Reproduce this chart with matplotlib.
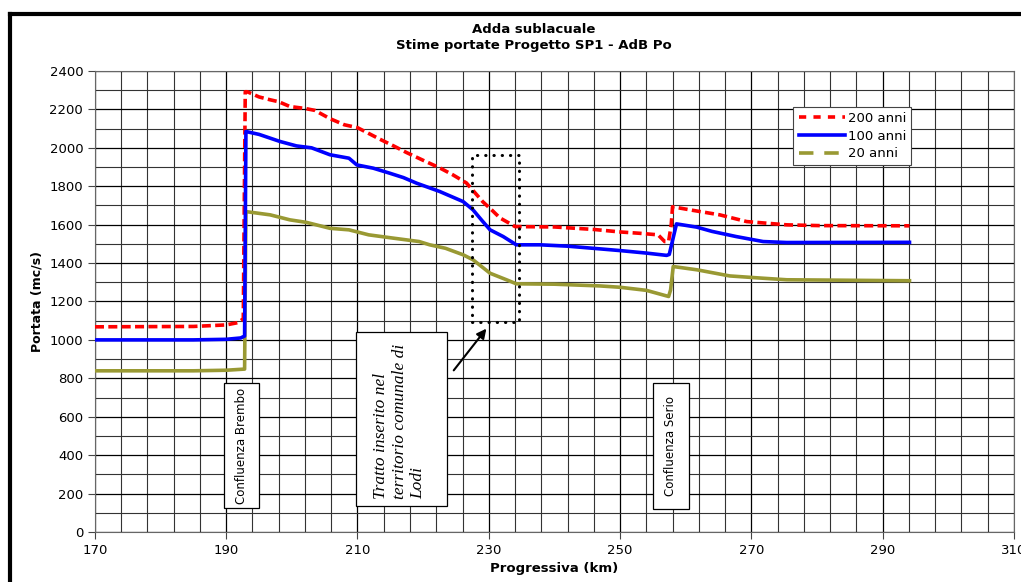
import matplotlib.pyplot as plt
from matplotlib.lines import Line2D
from matplotlib.patches import Rectangle

# --- dati ---
km_200 = [170, 185, 190, 191.8, 192.6, 192.9, 193.2, 195, 196.7, 198, 199.7, 202, 203.5, 205.8,
          208, 210, 213.4, 215.5, 217.5, 220, 222.5, 224.5, 226.6, 229.1, 230.5, 231.7, 233,
          234, 240, 246, 250, 253, 255.8, 256.8, 257.4, 257.8, 258, 261, 265.2, 269.3, 275.4,
          280.4, 294.1]
q_200 = [1068, 1070, 1078, 1090, 1110, 2292, 2292, 2265, 2250, 2240, 2215, 2205, 2195, 2152,
         2120, 2105, 2045, 2010, 1975, 1935, 1896, 1860, 1817, 1719, 1675, 1635, 1610,
         1590, 1588, 1575, 1562, 1555, 1547, 1512, 1512, 1600, 1693, 1675, 1651, 1616, 1599,
         1595, 1594]

km_100 = [170, 185, 190, 192.2, 192.8, 193.0, 195, 198.2, 200.7, 203, 205.8, 208.7, 209.9,
          212.4, 214.9, 217, 219, 222.5, 226.1, 227.6, 229, 230.2, 232.2, 234.2, 237.8, 242,
          246.9, 250, 254, 257.1, 257.5, 258.6, 261.7, 264, 267.7, 271.8, 275.4, 294.1]
q_100 = [1000, 1000, 1003, 1010, 1020, 2085, 2070, 2033, 2010, 2000, 1964, 1946, 1911,
         1894, 1868, 1845, 1816, 1773, 1720, 1677, 1620, 1573, 1538, 1495, 1495, 1488,
         1474, 1465, 1452, 1440, 1445, 1604, 1587, 1565, 1538, 1512, 1507, 1508]

km_20 = [170, 185, 190, 192.8, 193.0, 196.7, 199.7, 202.2, 205.8, 208.7, 211.7, 215.4, 219.4,
         221, 223.4, 226.1, 227.6, 230.2, 232.7, 234.2, 240, 246.9, 250, 254, 257.4, 257.7,
         258.1, 261.7, 266.7, 271.8, 275.4, 294.1]
q_20 = [839, 839, 842, 848, 1668, 1651, 1625, 1612, 1581, 1573, 1547, 1530, 1512,
        1495, 1477, 1443, 1417, 1347, 1313, 1292, 1290, 1281, 1274, 1258, 1226, 1260,
        1382, 1365, 1333, 1321, 1313, 1308]

yticks = list(range(0, 2401, 200))
xticks = list(range(170, 311, 20))

fig = plt.figure(figsize=(10.21, 5.82), dpi=100)
ax = fig.add_axes([0.093, 0.086, 0.9, 0.792])

ax.plot(km_200, q_200, color='red', lw=2.6, ls=(0, (2.5, 1.2)), zorder=3)
ax.plot(km_100, q_100, color='blue', lw=2.6, zorder=4)
ax.plot(km_20, q_20, color='#999933', lw=2.6, zorder=3)

ax.set_xlim(170, 310)
ax.set_ylim(0, 2400)
ax.set_xticks(xticks)
ax.set_yticks(yticks)
ax.set_xticks(range(170, 311, 4), minor=True)
ax.set_yticks(range(0, 2401, 100), minor=True)
ax.grid(which='major', color='black', lw=0.9)
ax.grid(which='minor', color='#333333', lw=0.8)
ax.tick_params(which='minor', length=0)
ax.tick_params(which='major', length=5, labelsize=9.5, color='#444444')
for s in ax.spines.values():
    s.set_color('#666666')
ax.set_axisbelow(True)

ax.set_xlabel('Progressiva (km)', fontsize=9.5, fontweight='bold', labelpad=4)
ax.set_ylabel('Portata (mc/s)', fontsize=9, fontweight='bold', labelpad=4)

fig.text(0.523, 0.95, 'Adda sublacuale', ha='center', va='center', fontsize=9.5, fontweight='bold')
fig.text(0.523, 0.921, 'Stime portate Progetto SP1 - AdB Po', ha='center', va='center',
         fontsize=9.5, fontweight='bold')

handles = [Line2D([], [], color='red', lw=2.6, ls=(0, (2, 2))),
           Line2D([], [], color='blue', lw=2.6),
           Line2D([], [], color='#999933', lw=2.6, ls=(0, (4, 3)))]
leg = ax.legend(handles, ['200 anni', '100 anni', '20 anni'], loc='upper right',
                bbox_to_anchor=(0.8955, 0.937), fontsize=9.5, frameon=True, fancybox=False,
                framealpha=1, edgecolor='#444444', handlelength=3.5, borderpad=0.4,
                labelspacing=0.35, handletextpad=0.2)
leg.get_frame().set_linewidth(0.8)

# etichette delle confluenze (riquadri bianchi)
ax.add_patch(Rectangle((189.65, 125), 5.35, 651, fc='white', ec='black', lw=0.9, zorder=6))
ax.text(192.35, 450, 'Confluenza Brembo', rotation=90, ha='center', va='center',
        fontsize=8.5, zorder=7)
ax.add_patch(Rectangle((255.0, 120), 5.5, 656, fc='white', ec='black', lw=0.9, zorder=6))
ax.text(257.75, 448, 'Confluenza Serio', rotation=90, ha='center', va='center',
        fontsize=8.5, zorder=7)
ax.add_patch(Rectangle((209.75, 135), 13.85, 907, fc='white', ec='black', lw=0.9, zorder=6))
ax.text(216.4, 170, 'Tratto inserito nel\nterritorio comunale di\nLodi', rotation=90,
        ha='center', va='bottom', multialignment='left', fontsize=12.5,
        family='Liberation Serif', style='italic', linespacing=1.2, zorder=7)

# riquadro a puntini e freccia
ax.add_patch(Rectangle((227.4, 1094), 7.2, 870, fill=False, ec='black', lw=2.2,
                       ls=(0, (0.1, 2.6)), capstyle='round', zorder=5))
ax.annotate('', xy=(229.9, 1070), xytext=(224.4, 830),
            arrowprops=dict(arrowstyle='-|>', color='black', lw=1.5, mutation_scale=14), zorder=6)

# cornice della figura
fig.add_artist(Line2D([0.0098, 1.0], [0.976, 0.976], color='black', lw=3, transform=fig.transFigure))
fig.add_artist(Line2D([0.0098, 0.0098], [0.0, 0.976], color='black', lw=3, transform=fig.transFigure))

fig.savefig('out.png', dpi=100)
